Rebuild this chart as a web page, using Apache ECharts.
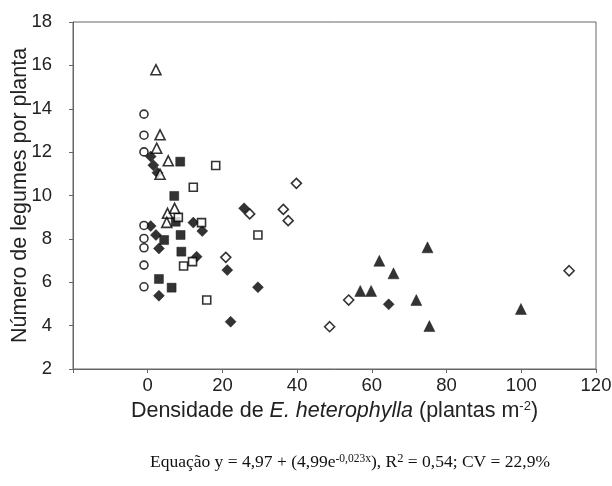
<!DOCTYPE html>
<html><head><meta charset="utf-8">
<script src="https://cdn.jsdelivr.net/npm/echarts@6/dist/echarts.min.js"></script>
<style>html,body{margin:0;padding:0;background:#fff}#c{width:612px;height:486px}</style>
</head><body><div id="c"></div>
<script>
// x = density of E. heterophylla (plants m-2), y = legumes per plant
const openCircles = [[-1,13.75],[-1,12.78],[-1,12.01],[-1,8.62],[-1,8.02],[-1,7.59],[-1,6.79],[-1,5.79]];
const openTriangles = [[2.2,15.8],[3.3,12.8],[2.4,12.18],[5.5,11.6],[3.3,10.98],[5.3,9.18],[7.2,9.41],[5.1,8.76]];
const filledSquares = [[8.7,11.56],[7.1,9.98],[7.5,8.79],[8.8,8.18],[4.4,7.95],[9.0,7.41],[3.0,6.15],[6.4,5.75]];
const openSquares = [[18.2,11.38],[12.2,10.38],[8.2,8.99],[14.4,8.75],[9.6,6.75],[12.0,6.95],[15.8,5.18],[29.5,8.18]];
const filledDiamonds = [[0.8,11.8],[1.5,11.4],[2.6,11.05],[0.8,8.59],[2.2,8.18],[3.0,7.56],[12.2,8.75],[14.6,8.36],[13.1,7.18],[21.3,6.56],[3.0,5.38],[22.2,4.18],[25.8,9.41],[29.5,5.77],[64.5,4.98]];
const openDiamonds = [[39.8,10.56],[36.3,9.36],[37.6,8.84],[27.3,9.15],[53.8,5.18],[48.7,3.95],[20.9,7.15],[112.8,6.53]];
const filledTriangles = [[74.9,7.61],[62.0,6.99],[65.8,6.41],[56.9,5.6],[59.8,5.6],[71.9,5.18],[75.4,3.98],[99.9,4.77]];

const xTicks = {min:-20, max:120, interval:20};
const yTicks = {min:2, max:18, interval:2};

function s(data, symbol, size, filled){
  return {type:'scatter', data:data, symbol:symbol, symbolSize:size,
    itemStyle:{color: filled ? '#000' : '#fff', borderColor:'#000', borderWidth: filled ? 0.5 : 1.6},
    emphasis:{disabled:true}, animation:false};
}

const F = 'Liberation Sans, Arial, sans-serif';
const chart = echarts.init(document.getElementById('c'), null, {renderer:'canvas'});
chart.setOption({
  animation:false,
  grid:{left:73, right:16, top:22, bottom:117, show:true, borderColor:'#666', borderWidth:1,
        containLabel:false, outerBoundsMode:'none'},
  xAxis:{type:'value', min:xTicks.min, max:xTicks.max, interval:xTicks.interval,
    axisLine:{onZero:false, lineStyle:{color:'#666'}}, axisTick:{show:true, length:4, lineStyle:{color:'#666'}},
    splitLine:{show:false},
    axisLabel:{color:'#222', fontFamily:F, fontSize:18.5, margin:7,
      formatter:v => v < 0 ? '' : String(v)},
    name:'Densidade de {i|E. heterophylla} (plantas m{sup|-2})',
    nameLocation:'middle', nameGap:31, nameMoveOverlap:false,
    nameTextStyle:{color:'#222', fontFamily:F, fontSize:21.5,
      rich:{i:{fontStyle:'italic', fontFamily:F, fontSize:21.5, color:'#222'},
            sup:{fontFamily:F, fontSize:13, color:'#222', padding:[0,0,10,0]}}}
  },
  yAxis:{type:'value', min:yTicks.min, max:yTicks.max, interval:yTicks.interval,
    axisLine:{show:true, onZero:false, lineStyle:{color:'#666'}}, axisTick:{show:true, length:4, lineStyle:{color:'#666'}},
    splitLine:{show:false},
    axisLabel:{color:'#222', fontFamily:F, fontSize:18.5, margin:21},
    name:'Número de legumes por planta', nameLocation:'middle', nameGap:42, nameRotate:90,
    nameMoveOverlap:false,
    nameTextStyle:{color:'#222', fontFamily:F, fontSize:21.5}
  },
  series:[
    s(filledSquares,'rect',9,true),
    s(filledDiamonds,'diamond',11,true),
    s(filledTriangles,'triangle',11,true),
    s(openSquares,'rect',8,false),
    s(openDiamonds,'diamond',10,false),
    s(openCircles,'circle',8,false),
    s(openTriangles,'triangle',10,false)
  ],
  graphic:[{type:'text', left:150, top:452,
    style:{text:'Equação y = 4,97 + (4,99e{sup|-0,023x}), R{sup2|2} = 0,54; CV = 22,9%',
      font:'17.5px "Liberation Serif", "Times New Roman", serif', fill:'#111',
      rich:{sup:{font:'11.5px "Liberation Serif", serif', fill:'#111', padding:[0,0,7,0]},
            sup2:{font:'12.5px "Liberation Serif", serif', fill:'#111', padding:[0,0,7,0]}}}}]
});
</script></body></html>
